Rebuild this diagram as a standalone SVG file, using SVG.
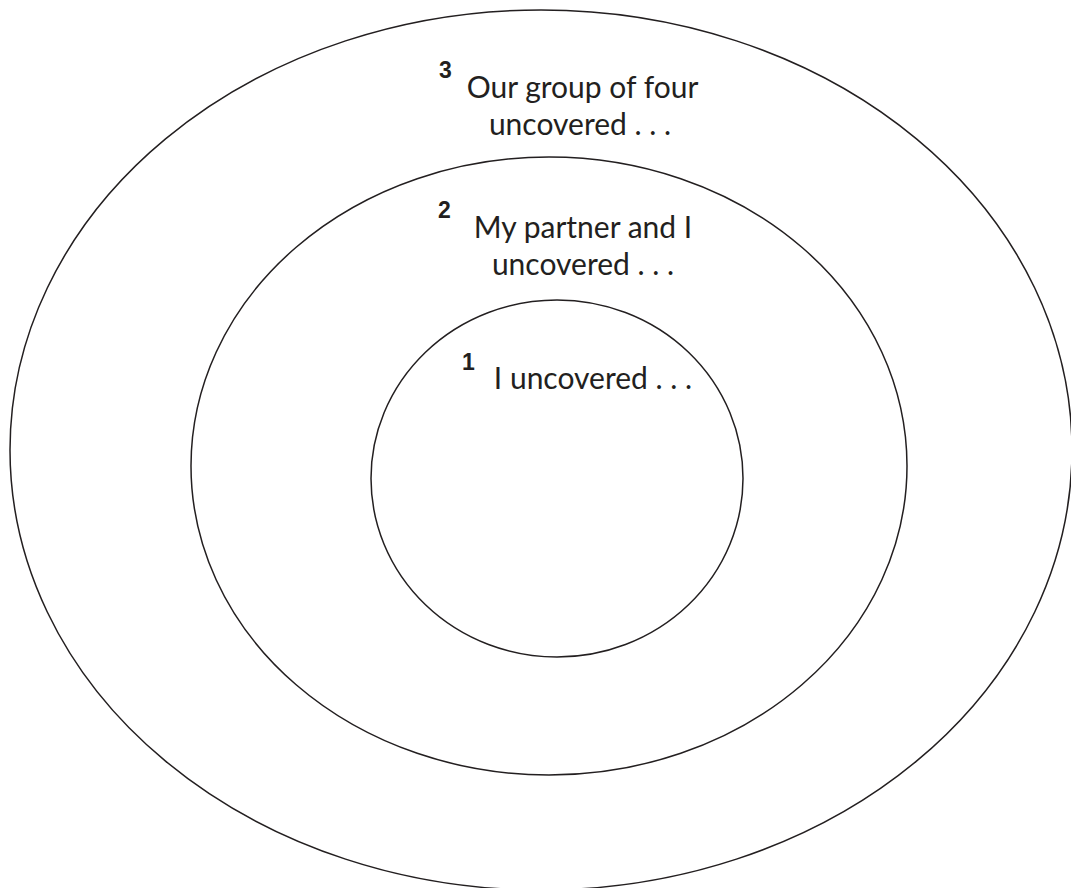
<svg xmlns="http://www.w3.org/2000/svg" width="1071" height="888" viewBox="0 0 1071 888">
<style>
.ring{fill:none;stroke:#231f20;stroke-width:1.5}
.lbl{font-family:Lato,"Open Sans","Noto Sans",sans-serif;font-size:30px;fill:#231f20;text-anchor:middle}
.num{font-family:"Liberation Sans",Arial,sans-serif;font-size:23px;font-weight:bold;fill:#231f20}
</style>
<rect width="1071" height="888" fill="#ffffff"/>
<g id="ring3">
<ellipse class="ring" cx="541" cy="450" rx="531" ry="440"/>
<text class="num" x="439" y="78">3</text>
<text class="lbl" x="582.5" y="98">Our group of four</text>
<text class="lbl" x="580" y="135">uncovered . . .</text>
</g>
<g id="ring2">
<ellipse class="ring" cx="549" cy="466" rx="358" ry="309"/>
<text class="num" x="438" y="218">2</text>
<text class="lbl" x="583" y="238">My partner and I</text>
<text class="lbl" x="583" y="275">uncovered . . .</text>
</g>
<g id="ring1">
<ellipse class="ring" cx="557" cy="478.5" rx="186" ry="178.5"/>
<text class="num" x="462" y="370">1</text>
<text class="lbl" x="593" y="389">I uncovered . . .</text>
</g>
<g id="connectors"/>
</svg>
